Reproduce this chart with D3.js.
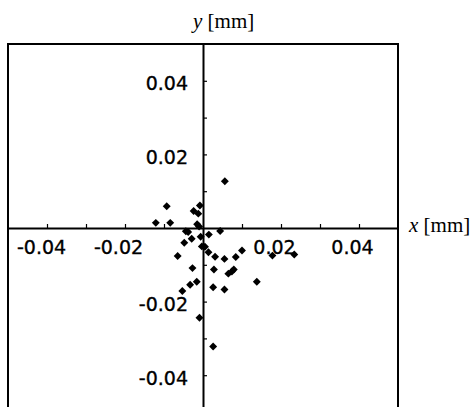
<!DOCTYPE html>
<html>
<head>
<meta charset="utf-8">
<script src="https://cdn.jsdelivr.net/npm/d3@7"></script>
<style>
  body { margin: 0; background: #fff; }
  .tick text { font-family: "DejaVu Sans", sans-serif; font-size: 19px; fill: #000; stroke: #000; stroke-width: 0.35px; }
  .axlabel { font-family: "Liberation Serif", "Times New Roman", serif; font-size: 21px; fill: #000; }
</style>
</head>
<body>
<div id="chart"></div>
<script>
// displacement points (mm)
var xVals = [0.0056, -0.0093, -0.0008, -0.0024, -0.0012, -0.0121, -0.0084, -0.0015, -0.0010, -0.0044,
             -0.0038, 0.0044, 0.0015, -0.0006, -0.0029, -0.0048, -0.0003, 0.0005, 0.0014, -0.0065,
             0.0031, 0.0055, 0.0084, 0.0100, 0.0178, 0.0234, -0.0027, 0.0028, 0.0079, 0.0074,
             0.0065, -0.0016, -0.0033, 0.0026, 0.0055, 0.0138, -0.0053, -0.0009, 0.0026];
var yVals = [0.0127, 0.0059, 0.0061, 0.0046, 0.0039, 0.0014, 0.0014, 0.0010, 0.0004, -0.0009,
             -0.0011, -0.0008, -0.0018, -0.0024, -0.0029, -0.0040, -0.0050, -0.0051, -0.0066, -0.0076,
             -0.0078, -0.0084, -0.0079, -0.0061, -0.0075, -0.0072, -0.0109, -0.0113, -0.0113, -0.0118,
             -0.0124, -0.0146, -0.0154, -0.0161, -0.0167, -0.0146, -0.0171, -0.0244, -0.0322];

var tickVals = [-0.04, -0.03, -0.02, -0.01, 0.01, 0.02, 0.03, 0.04];
var labelVals = [-0.04, -0.02, 0.02, 0.04];

var W = 476, H = 407;

var svg = d3.select("#chart").append("svg")
    .attr("width", W)
    .attr("height", H);

var x = d3.scaleLinear().domain([-0.05, 0.05]).range([8, 398]);
var y = d3.scaleLinear().domain([-0.05, 0.05]).range([412, 44]);

function fmt(v) {
  var show = labelVals.some(function(l) { return Math.abs(l - v) < 1e-9; });
  return show ? v.toFixed(2) : "";   // plain hyphen minus like the original
}

// plot frame
svg.append("rect")
    .attr("x", x(-0.05))
    .attr("y", y(0.05))
    .attr("width", x(0.05) - x(-0.05))
    .attr("height", y(-0.05) - y(0.05))
    .attr("fill", "none")
    .attr("stroke", "#000")
    .attr("stroke-width", 2);

// x axis through y = 0, ticks pointing up
var xAxis = svg.append("g")
    .attr("transform", "translate(0," + y(0) + ")")
    .call(d3.axisBottom(x).tickValues(tickVals).tickSize(-4).tickSizeOuter(0).tickPadding(13).tickFormat(fmt));

// y axis through x = 0, ticks pointing right
var yAxis = svg.append("g")
    .attr("transform", "translate(" + x(0) + ",0)")
    .call(d3.axisLeft(y).tickValues(tickVals).tickSize(-4).tickSizeOuter(0).tickPadding(15).tickFormat(fmt));

[xAxis, yAxis].forEach(function(g) {
  g.select(".domain").attr("stroke", "#000").attr("stroke-width", 2);
  g.selectAll(".tick line").attr("stroke", "#000").attr("stroke-width", 1.2);
});

// Excel-like nudge of x labels, keep the left one inside the frame
xAxis.selectAll(".tick text").attr("dx", -7).each(function() {
  var b = this.getBBox();
  var tx = +this.parentNode.getAttribute("transform").match(/translate\(([-\d.]+)/)[1];
  if (tx + b.x - 7 < x(-0.05) + 2) d3.select(this).attr("dx", x(-0.05) + 2 - tx - b.x);
});
yAxis.selectAll(".tick text").attr("dy", "0.47em");

// points
var pts = xVals.map(function(v, i) { return {x: v, y: yVals[i]}; });
svg.append("g")
  .selectAll("path")
  .data(pts)
  .enter()
  .append("path")
    .attr("transform", function(d) { return "translate(" + x(d.x) + "," + y(d.y) + ")"; })
    .attr("d", d3.symbol().type(d3.symbolDiamond2).size(40))
    .attr("fill", "#000");

// axis titles
var yt = svg.append("text")
    .attr("class", "axlabel")
    .attr("x", 193)
    .attr("y", 28);
yt.append("tspan").style("font-style", "italic").text("y");
yt.append("tspan").text(" [mm]");

var xt = svg.append("text")
    .attr("class", "axlabel")
    .attr("x", 409)
    .attr("y", y(0) + 4);
xt.append("tspan").style("font-style", "italic").text("x");
xt.append("tspan").text(" [mm]");
</script>
</body>
</html>
